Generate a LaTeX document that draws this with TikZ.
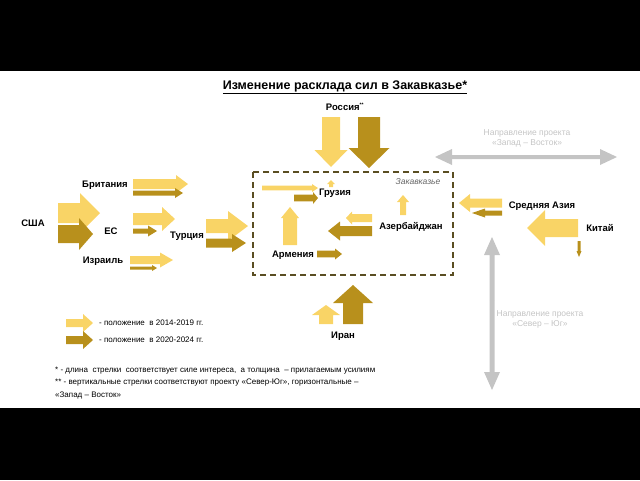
\documentclass[tikz,border=0pt]{standalone}
\usepackage{fontspec}
\setmainfont{Liberation Sans}
\definecolor{lightgold}{HTML}{F9D466}
\definecolor{darkgold}{HTML}{B8901C}
\definecolor{arrowgrey}{HTML}{C4C4C4}
\definecolor{boxolive}{HTML}{5A4E22}
% horizontal block arrow: {tail x}{head base x}{tip x}{y}{half body}{half head}
\newcommand{\harrow}[7][lightgold]{%
  \fill[#1] (#2,#5-#6) -- (#3,#5-#6) -- (#3,#5-#7) -- (#4,#5)
    -- (#3,#5+#7) -- (#3,#5+#6) -- (#2,#5+#6) -- cycle;}
% vertical block arrow: {x}{tail y}{head base y}{tip y}{half body}{half head}
\newcommand{\varrow}[7][lightgold]{%
  \fill[#1] (#2-#6,#3) -- (#2-#6,#4) -- (#2-#7,#4) -- (#2,#5)
    -- (#2+#7,#4) -- (#2+#6,#4) -- (#2+#6,#3) -- cycle;}
\begin{document}
\begin{tikzpicture}[
    x = 1pt,
    y = -1pt,
    country/.style = {
      font = \fontsize{9.5}{11}\selectfont\bfseries,
      inner sep = 0
    },
    project/.style = {
      font = \fontsize{8.5}{10}\selectfont,
      text = arrowgrey,
      align = center,
      inner sep = 0
    },
    note/.style = {
      font = \fontsize{8}{10}\selectfont,
      anchor = west,
      inner sep = 0
    }
  ]
  \useasboundingbox (0,0) rectangle (640,480);
  \fill[black] (0,0) rectangle (640,71);
  \fill[black] (0,408) rectangle (640,480);

  \node[font = \fontsize{12.5}{14}\selectfont\bfseries, inner sep = 0] (title) at (345,87)
    {\underline{Изменение расклада сил в Закавказье*}};

  % west side
  \node[country] (usa) at (33,223) {США};
  \node[country] (uk) at (105,185) {Британия};
  \node[country] (eu) at (111,231) {ЕС};
  \node[country] (isr) at (103,261) {Израиль};
  \node[country] (tur) at (187,236) {Турция};

  \harrow{58}{80}{100}{213}{10}{20}
  \harrow[darkgold]{58}{79}{93}{234}{9}{16}
  \harrow{133}{176}{188}{184}{5}{9}
  \harrow[darkgold]{133}{175}{183}{193}{2.5}{5}
  \harrow{133}{162}{175}{219}{6}{12}
  \harrow[darkgold]{133}{148}{157}{231}{2.5}{5.5}
  \harrow{130}{160}{173}{260}{4}{7.5}
  \harrow[darkgold]{130}{152}{157}{268}{1.5}{3}
  \harrow{206}{228}{248}{226}{7}{15}
  \harrow[darkgold]{206}{232}{246}{243}{4.5}{9}

  % north
  \node[country] (rus) at (345,107) {Россия\textsuperscript{\fontsize{5}{5}\selectfont**}};
  \varrow{331}{117}{150}{167}{9}{16.5}
  \varrow[darkgold]{369}{117}{148}{168}{11}{20.5}

  % Transcaucasia
  \draw[boxolive, line width = 1.6pt, dash pattern = on 6pt off 4pt]
    (253,172) rectangle (453,275);
  \node[font = \fontsize{8.5}{10}\selectfont\itshape, text = black!60, inner sep = 0]
    (tc) at (418,182) {Закавказье};
  \node[country] (geo) at (335,193) {Грузия};
  \node[country] (arm) at (293,255) {Армения};
  \node[country] (aze) at (411,227) {Азербайджан};

  \varrow{331}{187}{184}{180}{2}{4}
  \harrow{262}{312}{318}{188}{2.3}{4}
  \harrow[darkgold]{294}{313}{318}{198}{3.3}{6}
  \varrow{290}{245}{218}{207}{7}{9}
  \harrow[darkgold]{317}{335}{342}{254}{3.3}{5.5}
  \varrow{403}{215}{202}{195}{3}{6}
  \harrow{372}{352}{346}{218}{4}{6.5}
  \harrow[darkgold]{372}{340}{328}{231}{5}{9.5}

  % south
  \node[country] (iran) at (343,336) {Иран};
  \varrow{326}{324}{315}{305}{7}{14}
  \varrow[darkgold]{353}{324}{303}{285}{10}{20}

  % east
  \node[country] (cas) at (542,206) {Средняя Азия};
  \node[country] (chn) at (600,228) {Китай};
  \harrow{502}{470}{459}{203}{4.5}{9}
  \harrow[darkgold]{502}{485}{472}{213}{2.5}{4.5}
  \harrow{578}{545}{527}{228}{9}{18}
  \varrow[darkgold]{579}{241}{251}{257}{1.5}{2.5}

  % project directions
  \node[project] (we) at (527,138) {Направление проекта\\«Запад – Восток»};
  \harrow[arrowgrey]{452}{452}{435}{157}{2}{8}
  \harrow[arrowgrey]{452}{600}{617}{157}{2}{8}
  \node[project] (ns) at (540,319) {Направление проекта\\«Север – Юг»};
  \varrow[arrowgrey]{492}{300}{255}{237}{2.5}{8}
  \varrow[arrowgrey]{492}{300}{372}{390}{2.5}{8}

  % legend
  \harrow{66}{83}{93}{323}{4}{9}
  \harrow[darkgold]{66}{83}{93}{340}{4}{9}
  \node[note] (old) at (99,323) {- положение \ в 2014-2019 гг.};
  \node[note] (new) at (99,340) {- положение \ в 2020-2024 гг.};

  \node[note] (n1) at (55,371) {* - длина \ стрелки \ соответствует силе интереса, \ а толщина \ – прилагаемым усилиям};
  \node[note] (n2) at (55,383) {** - вертикальные стрелки соответствуют проекту «Север-Юг», горизонтальные –};
  \node[note] (n3) at (55,395) {«Запад – Восток»};
\end{tikzpicture}
\end{document}
